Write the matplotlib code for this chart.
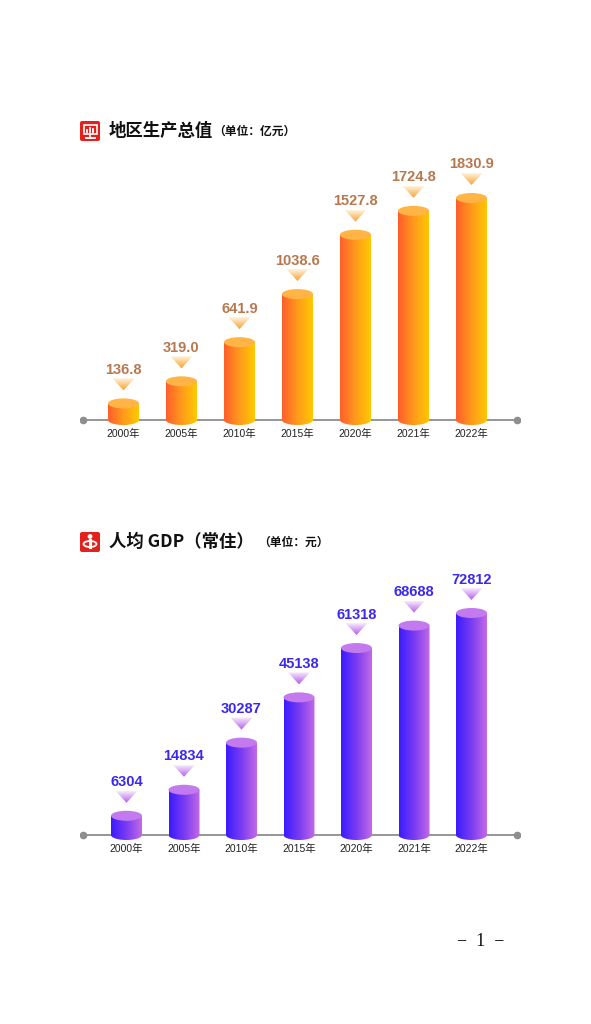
import numpy as np
import matplotlib.pyplot as plt
from matplotlib.patches import Ellipse, Polygon, FancyBboxPatch, Rectangle, Circle
from matplotlib.colors import LinearSegmentedColormap

years = ['2000年', '2005年', '2010年', '2015年', '2020年', '2021年', '2022年']
gdp = [136.8, 319.0, 641.9, 1038.6, 1527.8, 1724.8, 1830.9]
gdp_labels = ['136.8', '319.0', '641.9', '1038.6', '1527.8', '1724.8', '1830.9']
per_capita = [6304, 14834, 30287, 45138, 61318, 68688, 72812]
per_capita_labels = [str(v) for v in per_capita]

W, H = 591, 1024
CJK = ['Noto Sans CJK SC', 'DejaVu Sans']
NUM = ['Liberation Sans', 'Noto Sans CJK SC']

fig = plt.figure(figsize=(W / 100, H / 100), dpi=100)


def px_axes(x0, y0, x1, y1):
    return fig.add_axes([x0 / W, 1 - y1 / H, (x1 - x0) / W, (y1 - y0) / H])


def draw_chart(box, c0, step, base, k, values, labels, style):
    x0, y0, x1, y1 = box
    ax = px_axes(*box)
    ax.set_axis_off()
    bw = 31 / step
    eh = 10 / k
    bar_cmap = LinearSegmentedColormap.from_list('bar', style['bar'])
    tri_cmap = LinearSegmentedColormap.from_list('tri', style['tri'])
    grad_h = np.linspace(0, 1, 256).reshape(1, -1)
    grad_v = np.linspace(0, 1, 256).reshape(-1, 1)
    xs = np.arange(len(values))

    ax.plot([(x0 + 3 - c0) / step, (x1 - 3 - c0) / step], [0, 0],
            color='#8e8e8e', lw=1.3, marker='o', ms=4.5, zorder=1)

    for x, v, lab in zip(xs, values, labels):
        t = np.linspace(np.pi, 2 * np.pi, 40)
        bottom = np.column_stack([x + bw / 2 * np.cos(t), eh / 2 * np.sin(t)])
        pts = np.vstack([[x - bw / 2, v], bottom, [x + bw / 2, v]])
        clip = Polygon(pts, closed=True, fill=False, lw=0)
        ax.add_patch(clip)
        im = ax.imshow(grad_h, cmap=bar_cmap, aspect='auto', zorder=2,
                       extent=[x - bw / 2, x + bw / 2, -eh / 2, v])
        im.set_clip_path(clip)
        ax.add_patch(Ellipse((x, v), bw, eh, facecolor=style['cap'],
                             edgecolor='none', zorder=3))

        tip = v + 13 / k
        top = tip + 12 / k
        tw = 22 / step
        tri = Polygon([[x - tw / 2, top], [x + tw / 2, top], [x, tip]],
                      closed=True, fill=False, lw=0)
        ax.add_patch(tri)
        im2 = ax.imshow(grad_v, cmap=tri_cmap, aspect='auto', origin='lower',
                        zorder=2, extent=[x - tw / 2, x + tw / 2, tip, top])
        im2.set_clip_path(tri)
        ax.text(x, top + 1.5 / k, lab, ha='center', va='bottom',
                fontsize=10.5, fontweight='bold', color=style['label'],
                family=NUM)
        ax.text(x, -14 / k, years[x], ha='center', va='center',
                fontsize=7.5, color='#222222', family=NUM)

    ax.set_xlim((x0 - c0) / step, (x1 - c0) / step)
    ax.set_ylim((base - y1) / k, (base - y0) / k)
    return ax


orange = {'bar': ['#ff5e2c', '#ff9a1c', '#ffca00'], 'cap': '#ffb445',
          'tri': ['#f7a338', '#fff3dc'], 'label': '#b8784f'}
purple = {'bar': ['#3a1cff', '#7a3cf2', '#c46ae6'], 'cap': '#c27aee',
          'tri': ['#b45ce6', '#f8ecff'], 'label': '#3b28f0'}

draw_chart((80, 150, 520, 450), 123.5, 58, 420, 222 / 1830.9, gdp, gdp_labels, orange)
draw_chart((80, 565, 520, 865), 126.5, 57.5, 835, 222 / 72812, per_capita,
           per_capita_labels, purple)

# overlay for titles, icons and page number
ov = fig.add_axes([0, 0, 1, 1])
ov.set_xlim(0, W)
ov.set_ylim(H, 0)
ov.set_axis_off()

for y in (120, 531):
    ov.add_patch(FancyBboxPatch((80, y + 1), 20, 20, boxstyle='round,pad=0,rounding_size=2',
                                facecolor='#e3201b', edgecolor='none'))

# monitor glyph
ov.add_patch(Rectangle((83.5, 124.5), 13, 9.5, fill=False, edgecolor='white', lw=1.2))
ov.plot([90, 90], [134, 137.5], color='white', lw=1.2)
ov.plot([85.5, 94.5], [137.5, 137.5], color='white', lw=1.4)
for bx, bh in zip([87, 90, 93], [2.5, 4.5, 3.5]):
    ov.plot([bx, bx], [132, 132 - bh], color='white', lw=1.3)

# person glyph
ov.add_patch(Circle((90, 536.5), 2.4, facecolor='white', edgecolor='none'))
ov.add_patch(Ellipse((90, 544), 13, 6, fill=False, edgecolor='white', lw=1.3))
ov.plot([90, 90], [539.5, 547], color='white', lw=2.2)

ov.text(109, 131, '地区生产总值', fontsize=12.5, fontweight='bold', va='center',
        family=CJK, color='#111111')
ov.text(213, 131.5, '（单位：亿元）', fontsize=8.5, fontweight='bold', va='center',
        family=CJK, color='#111111')
ov.text(109, 542, '人均 GDP（常住）', fontsize=12.5, fontweight='bold', va='center',
        family=CJK, color='#111111')
ov.text(258, 542.5, '（单位：元）', fontsize=8.5, fontweight='bold', va='center',
        family=CJK, color='#111111')

ov.text(481, 942, '−  1  −', fontsize=13, ha='center', va='center',
        family=['Liberation Serif', 'DejaVu Serif'], color='#111111')

fig.savefig('out.png', dpi=100)
